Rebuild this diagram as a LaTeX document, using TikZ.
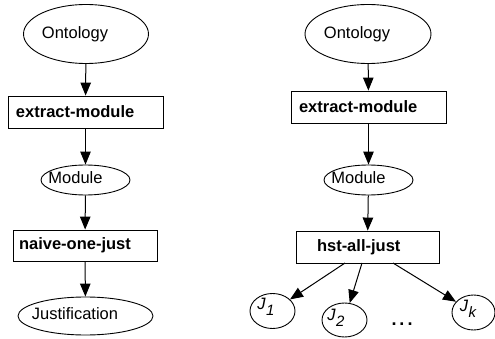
\documentclass[tikz,border=0pt]{standalone}
\usepackage{fontspec}
\setmainfont{Liberation Sans}
\usetikzlibrary{shapes.geometric,arrows.meta}
\tikzset{
  lbl/.style={font=\fontsize{16.5}{19}\selectfont, inner sep=0pt, anchor=center},
  oval/.style={draw, line width=0.9pt, ellipse, inner sep=0pt},
  proc/.style={draw, line width=0.9pt, rectangle, inner ysep=0pt, align=left,
    font=\fontsize{16.5}{19}\selectfont\bfseries},
  arr/.style={line width=1pt, -{Triangle[length=13pt,width=10.5pt]}},
}
\newcommand{\Jsub}[1]{\itshape J\kern0.5pt\raisebox{-6pt}{\fontsize{15}{17}\selectfont #1}}
\begin{document}
\begin{tikzpicture}[x=1pt,y=-1pt]
\useasboundingbox (0,0) rectangle (495,339);
% left column
\node[oval, minimum width=125pt, minimum height=59pt] (ontL) at (86,34) {};
\node[lbl] (ontLt) at (75,34) {Ontology};
\node[proc, text width=139pt, inner xsep=8pt, minimum height=32pt] (emL) at (85.5,112) {extract-module};
\node[oval, minimum width=89pt, minimum height=30pt] (modL) at (85.5,180) {};
\node[lbl] (modLt) at (75.5,178) {Module};
\node[proc, text width=132pt, inner xsep=6pt, minimum height=31pt] (naive) at (85,245.5) {naive-one-just};
\node[oval, minimum width=135pt, minimum height=38pt] (just) at (85.5,316) {};
\node[lbl] (justt) at (75,314) {Justification};
\draw[arr] (ontL) -- (emL);
\draw[arr] (emL) -- (modL);
\draw[arr] (modL) -- (naive);
\draw[arr] (naive) -- (just);
% right column
\node[oval, minimum width=126pt, minimum height=59pt] (ontR) at (368,34) {};
\node[lbl] (ontRt) at (357,34) {Ontology};
\node[proc, text width=139pt, inner xsep=8pt, minimum height=32pt] (emR) at (368.5,107) {extract-module};
\node[oval, minimum width=89pt, minimum height=30pt] (modR) at (368.5,180) {};
\node[lbl] (modRt) at (358.5,178) {Module};
\node[proc, text width=101pt, inner xsep=21pt, minimum height=32pt] (hst) at (367.5,247) {hst-all-just};
\node[oval, minimum width=45pt, minimum height=35pt] (j1) at (272.5,311) {};
\node[lbl] (j1t) at (266,307) {\Jsub{1}};
\node[oval, minimum width=45pt, minimum height=34pt] (j2) at (344.5,320) {};
\node[lbl] (j2t) at (336,318) {\Jsub{2}};
\node[oval, minimum width=43pt, minimum height=35pt] (jk) at (473.5,312.5) {};
\node[lbl] (jkt) at (468,309) {\Jsub{k}};
\node[lbl, font=\fontsize{18}{20}\selectfont\bfseries] (dots) at (402,324) {.\hspace{3pt}.\hspace{3pt}.};
\coordinate (s1) at (345,263);
\coordinate (s2) at (362,263);
\coordinate (s3) at (393,263);
\draw[arr] (ontR) -- (emR);
\draw[arr] (emR) -- (modR);
\draw[arr] (modR) -- (hst);
\draw[arr] (s1) -- (j1);
\draw[arr] (s2) -- (j2);
\draw[arr] (s3) -- (jk);
\end{tikzpicture}
\end{document}
